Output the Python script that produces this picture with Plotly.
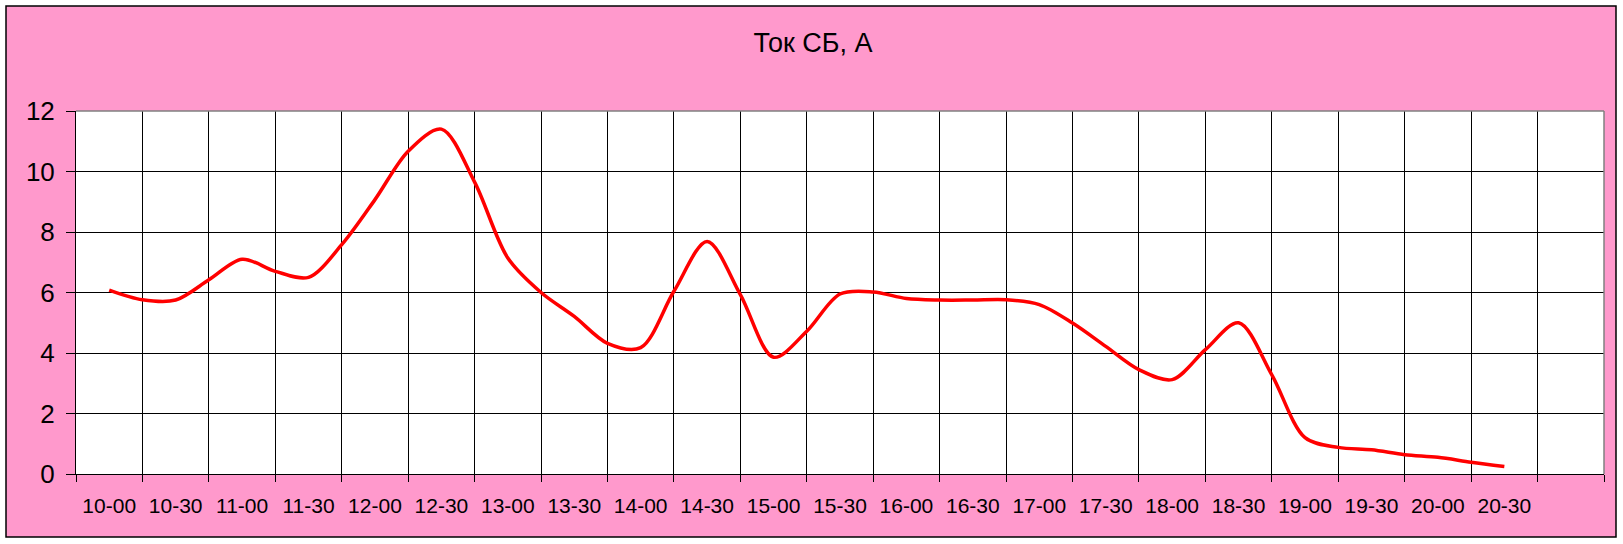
import plotly.graph_objects as go

# --- data ---------------------------------------------------------------
times = ["10-00", "10-15", "10-30", "10-45", "11-00", "11-15", "11-30", "11-45",
         "12-00", "12-15", "12-30", "12-45", "13-00", "13-15", "13-30", "13-45",
         "14-00", "14-15", "14-30", "14-45", "15-00", "15-15", "15-30", "15-45",
         "16-00", "16-15", "16-30", "16-45", "17-00", "17-15", "17-30", "17-45",
         "18-00", "18-15", "18-30", "18-45", "19-00", "19-15", "19-30", "19-45",
         "20-00", "20-15", "20-30"]
current = [6.08, 5.76, 5.75, 6.42, 7.10, 6.70, 6.50, 7.58,
           9.07, 10.67, 11.40, 9.65, 7.14, 6.00, 5.21, 4.32,
           4.18, 6.04, 7.69, 5.93, 3.86, 4.72, 5.95, 6.02,
           5.80, 5.75, 5.75, 5.76, 5.60, 4.99, 4.22, 3.45,
           3.12, 4.11, 5.00, 3.28, 1.20, 0.88, 0.80, 0.64,
           0.55, 0.39, 0.25]
tick_labels = ["10-00", "10-30", "11-00", "11-30", "12-00", "12-30", "13-00",
               "13-30", "14-00", "14-30", "15-00", "15-30", "16-00", "16-30",
               "17-00", "17-30", "18-00", "18-30", "19-00", "19-30", "20-00",
               "20-30"]
n_slots = 23  # category slots on the axis (last one empty)
title_text = "Ток СБ, А"

# --- derived positions (slot index: one slot = 30 minutes) --------------
def slot(t):
    h, m = t.split("-")
    return ((int(h) - 10) * 60 + int(m)) / 30.0

xs = [slot(t) for t in times]
label_pos = [slot(t) for t in tick_labels]
boundaries = [k - 0.5 for k in range(n_slots + 1)]

W, H = 1623, 544
ml, mr, mt, mb = 76, 19, 111, 70
pw, ph = W - ml - mr, H - mt - mb
PINK = "#FF99CC"
FONT = "Liberation Sans, Arial, sans-serif"

def px_x(p):
    return (p - ml) / pw

def px_y(p):
    return (H - mb - p) / ph

fig = go.Figure()
fig.add_trace(go.Scatter(
    x=xs, y=current, mode="lines",
    line=dict(color="#FF0000", width=3.5, shape="spline", smoothing=0.9),
    showlegend=False, hoverinfo="skip",
))

fig.update_layout(
    width=W, height=H,
    margin=dict(l=ml, r=mr, t=mt, b=mb, pad=0),
    paper_bgcolor="white",
    plot_bgcolor="rgba(0,0,0,0)",
    font=dict(family=FONT, color="black"),
    title=dict(text=title_text, x=813 / W, xanchor="center",
               y=1 - 43 / H, yanchor="middle", yref="container",
               font=dict(size=27, family=FONT, color="black")),
    shapes=[
        dict(type="rect", xref="paper", yref="paper", layer="below",
             x0=px_x(6), x1=px_x(1616), y0=px_y(537), y1=px_y(6),
             fillcolor=PINK, line=dict(color="black", width=1.5)),
        dict(type="rect", xref="paper", yref="paper", layer="below",
             x0=0, x1=1, y0=0, y1=1, fillcolor="white",
             line=dict(width=0)),
        dict(type="line", xref="paper", yref="paper", layer="above",
             x0=0, x1=1, y0=1, y1=1, line=dict(color="#808080", width=1.5)),
        dict(type="line", xref="paper", yref="paper", layer="above",
             x0=1, x1=1, y0=0, y1=1, line=dict(color="#808080", width=1.5)),
    ],
)

fig.update_xaxes(
    range=[-0.5, n_slots - 0.5],
    tickmode="array", tickvals=label_pos, ticktext=tick_labels,
    ticks="", showgrid=False, zeroline=False,
    showline=True, linecolor="black", linewidth=1,
    tickfont=dict(size=21, family=FONT, color="black"),
    ticklabelstandoff=13,
    minor=dict(tickmode="array", tickvals=boundaries, showgrid=True,
               gridcolor="black", gridwidth=1, ticks="outside",
               ticklen=7, tickcolor="black", tickwidth=1),
)
fig.update_yaxes(
    range=[0, 12], tickmode="linear", tick0=0, dtick=2,
    ticks="outside", ticklen=9, tickcolor="black", tickwidth=1,
    showgrid=True, gridcolor="black", gridwidth=1, zeroline=False,
    showline=True, linecolor="black", linewidth=1,
    tickfont=dict(size=26, family=FONT, color="black"),
    ticklabelstandoff=6,
)

fig.write_html(
    "out.html",
    config={"displayModeBar": False},
    post_script="document.body.style.margin='0px';"
                "document.body.style.overflow='hidden';",
)
